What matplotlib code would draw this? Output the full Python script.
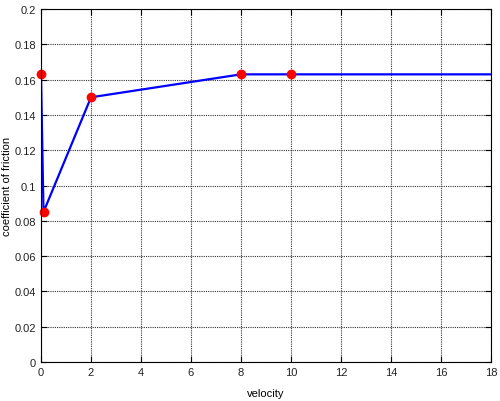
import matplotlib
matplotlib.use("Agg")
import matplotlib.pyplot as plt

# friction curve
velocity = [0, 0.1, 2, 8, 18]
friction = [0.163, 0.085, 0.15, 0.163, 0.163]

# marked points
pt_velocity = [0, 0.1, 2, 8, 10]
pt_friction = [0.163, 0.085, 0.15, 0.163, 0.163]

plt.rcParams["font.family"] = ["Liberation Sans", "DejaVu Sans"]

fig = plt.figure(figsize=(5, 4.02), dpi=100)
ax = fig.add_axes([0.082, 0.097, 0.9, 0.878])

ax.plot(velocity, friction, color="blue", linewidth=1.6)
ax.plot(pt_velocity, pt_friction, "o", color="red", markersize=6, clip_on=False)

ax.set_xlim(0, 18)
ax.set_ylim(0, 0.2)
ax.set_xticks(range(0, 19, 2))
ax.set_yticks([i * 0.02 for i in range(11)])
ax.set_yticklabels(["0", "0.02", "0.04", "0.06", "0.08", "0.1", "0.12",
                    "0.14", "0.16", "0.18", "0.2"])
ax.grid(True, color="#333333", linestyle=(0, (1, 1)), linewidth=0.8)
ax.tick_params(direction="in", labelsize=8, length=4, top=True, right=True,
               labelcolor="#222222")
for s in ax.spines.values():
    s.set_linewidth(0.8)

ax.set_xlabel("velocity", fontsize=8, labelpad=8)
ax.set_ylabel("coefficient of friction", fontsize=8, labelpad=2)

fig.savefig("out.png", dpi=100)
